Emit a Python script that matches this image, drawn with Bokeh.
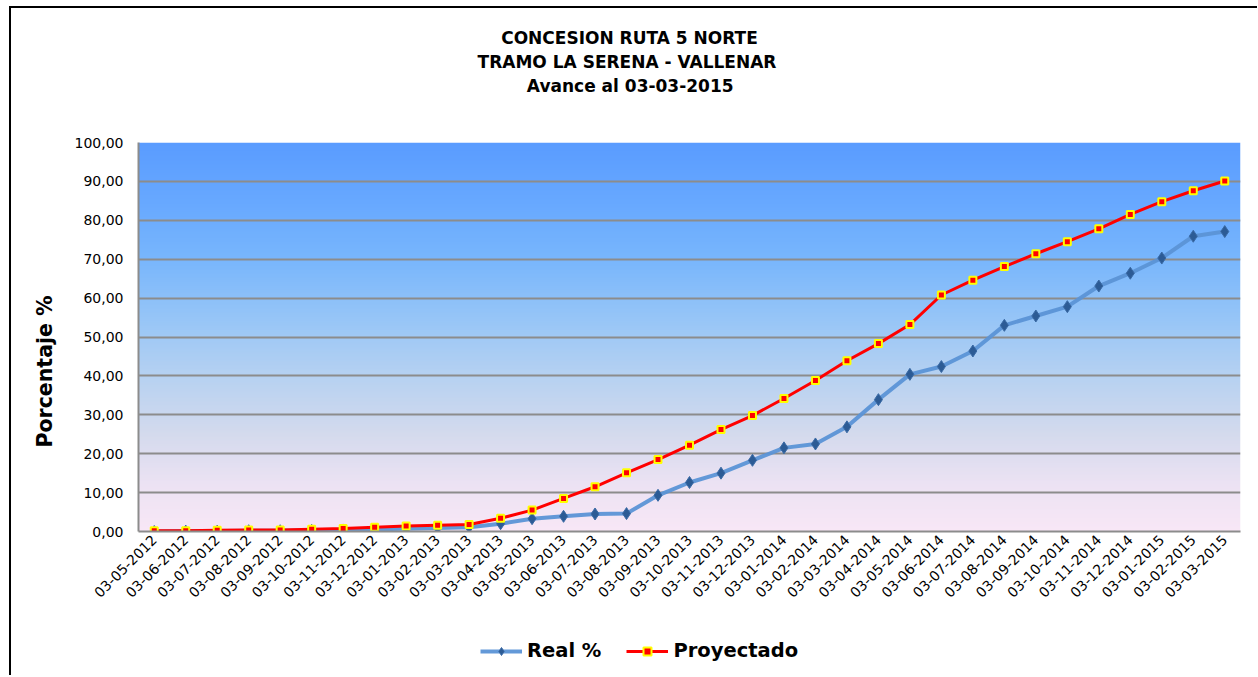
import numpy as np
from math import pi
from bokeh.plotting import figure
from bokeh.layouts import column
from bokeh.models import (FactorRange, Range1d, FixedTicker, CustomJSTickFormatter,
                          Title, Legend, LegendItem)
from bokeh.embed import file_html
from bokeh.resources import INLINE

# ---------------- data ----------------
fechas = ["03-05-2012", "03-06-2012", "03-07-2012", "03-08-2012", "03-09-2012",
          "03-10-2012", "03-11-2012", "03-12-2012", "03-01-2013", "03-02-2013",
          "03-03-2013", "03-04-2013", "03-05-2013", "03-06-2013", "03-07-2013",
          "03-08-2013", "03-09-2013", "03-10-2013", "03-11-2013", "03-12-2013",
          "03-01-2014", "03-02-2014", "03-03-2014", "03-04-2014", "03-05-2014",
          "03-06-2014", "03-07-2014", "03-08-2014", "03-09-2014", "03-10-2014",
          "03-11-2014", "03-12-2014", "03-01-2015", "03-02-2015", "03-03-2015"]

real = [0.0, 0.1, 0.1, 0.2, 0.2, 0.3, 0.4, 0.6, 0.7, 0.9,
        1.1, 2.0, 3.3, 3.9, 4.5, 4.6, 9.3, 12.6, 15.0, 18.3,
        21.5, 22.5, 26.9, 33.9, 40.4, 42.4, 46.4, 53.0, 55.4, 57.8,
        63.1, 66.4, 70.3, 75.9, 77.1]

proyectado = [0.2, 0.2, 0.3, 0.4, 0.4, 0.6, 0.8, 1.1, 1.4, 1.6,
              1.8, 3.4, 5.5, 8.5, 11.5, 15.1, 18.5, 22.2, 26.2, 29.8,
              34.2, 38.8, 43.9, 48.3, 53.2, 60.8, 64.6, 68.1, 71.4, 74.5,
              77.8, 81.5, 84.8, 87.6, 90.1]

y_ticks = [0, 10, 20, 30, 40, 50, 60, 70, 80, 90, 100]

titulo = ["CONCESION RUTA 5 NORTE", "TRAMO LA SERENA  - VALLENAR", "Avance al 03-03-2015"]
eje_y = "Porcentaje %"
serie_real = "Real %"
serie_proy = "Proyectado"

# ---------------- layout ----------------
W = 1246
H1, H2 = 603, 64
FL, FR, FT, FB = 127, 1229, 134, 523   # frame edges in canvas px
FONT = "DejaVu Sans"

p = figure(x_range=FactorRange(*fechas, range_padding=0), y_range=Range1d(0, 100),
           width=W, height=H1, output_backend="svg", toolbar_location=None,
           min_border_left=FL, min_border_right=W - FR,
           min_border_top=FT, min_border_bottom=H1 - FB)
p.outline_line_color = None
p.background_fill_color = "white"
p.border_fill_color = "white"

# gradient background of the plot area (style only)
stops = [(0.0, (248, 231, 246)), (0.12, (236, 226, 243)), (0.25, (212, 218, 237)),
         (0.40, (182, 209, 241)), (0.55, (150, 197, 247)), (0.70, (120, 182, 252)),
         (0.85, (103, 168, 255)), (1.0, (90, 156, 255))]
n = 300
t = np.linspace(0, 1, n)
img = np.zeros((n, 2), dtype=np.uint32)
view = img.view(dtype=np.uint8).reshape((n, 2, 4))
for ch in range(3):
    col = np.interp(t, [s[0] for s in stops], [s[1][ch] for s in stops])
    view[:, :, ch] = np.round(col)[:, None].astype(np.uint8)
view[:, :, 3] = 255
p.image_rgba(image=[img], x=0, y=0, dw=len(fechas), dh=100, level="image")

# axes
p.xgrid.grid_line_color = None
p.ygrid.grid_line_color = "#8c8c8c"
p.ygrid.grid_line_width = 2
p.ygrid.level = "underlay"
p.yaxis.ticker = FixedTicker(ticks=y_ticks)
p.yaxis.formatter = CustomJSTickFormatter(code="return tick.toFixed(2).replace('.', ',');")
for ax in (p.xaxis[0], p.yaxis[0]):
    ax.axis_line_color = "#8c8c8c"
    ax.axis_line_width = 2
    ax.major_tick_line_color = None
    ax.minor_tick_line_color = None
    ax.major_tick_out = 0
    ax.major_label_text_font = FONT
    ax.major_label_text_font_size = "14px"
    ax.major_label_text_color = "black"
p.yaxis.major_label_standoff = 15
p.xaxis.major_label_orientation = pi / 4
p.xaxis.major_label_standoff = 6

# series
def draw(fig):
    lr = fig.line(fechas, real, line_color="#5b93d6", line_width=4, line_alpha=0.95)
    sr = fig.scatter(fechas, real, marker="diamond", size=12, fill_color="#2c5b95",
                     line_color="#3a6aa5", line_width=1)
    lp = fig.line(fechas, proyectado, line_color="#ff0000", line_width=3)
    sp = fig.scatter(fechas, proyectado, marker="square", size=7, fill_color="#ff0000",
                     line_color="#ffff00", line_width=2)
    return lr, sr, lp, sp

draw(p)

# titles: stacked above the frame, nearest first
p.add_layout(Title(text=" ", text_font_size="1px", standoff=43), "above")
title_widths = [258.7, 305.8, 207.3]   # approx rendered widths at 17px
centre = 492
for i in (2, 1, 0):
    p.add_layout(Title(text=titulo[i], align="left", offset=centre - title_widths[i] / 2,
                       text_font=FONT, text_font_style="bold", text_font_size="17px",
                       text_color="black", standoff=2), "above")

p.add_layout(Title(text=eje_y, align="left", offset=84, text_font=FONT,
                   text_font_style="bold", text_font_size="20.5px", text_color="black",
                   standoff=30), "left")

# legend strip (series drawn out of view; only the legend shows)
p2 = figure(x_range=p.x_range, y_range=Range1d(-300, -200), width=W, height=H2,
            output_backend="svg", toolbar_location=None, min_border=0,
            min_border_left=0, min_border_right=0, min_border_top=0, min_border_bottom=0)
p2.axis.visible = False
p2.grid.visible = False
p2.outline_line_color = None
lr, sr, lp, sp = draw(p2)
legend = Legend(items=[LegendItem(label=serie_real, renderers=[lr, sr]),
                       LegendItem(label=serie_proy, renderers=[lp, sp])],
                orientation="horizontal", location=(342, 13),
                glyph_width=42, glyph_height=20, label_standoff=5, spacing=25,
                padding=0, margin=0, border_line_color=None,
                background_fill_alpha=0, label_text_font=FONT,
                label_text_font_style="bold", label_text_font_size="19.5px",
                label_text_color="black")
p2.add_layout(legend, "center")

layout = column(p, p2, spacing=0,
                styles={"border-left": "2px solid black", "border-top": "2px solid black",
                        "margin-left": "9px", "margin-top": "6px"})

open("out.html", "w").write(file_html(layout, INLINE))
